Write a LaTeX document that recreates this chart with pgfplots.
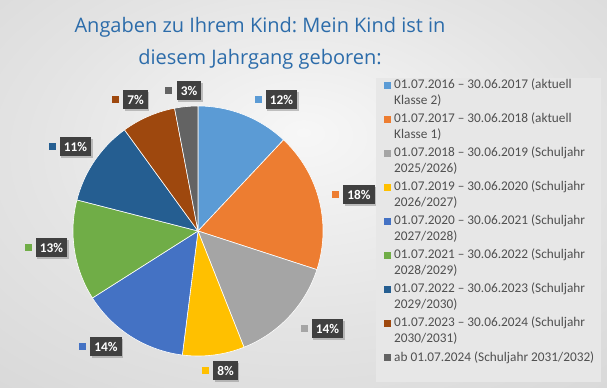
\documentclass[border=0pt]{standalone}
\usepackage{pgfplots}
\pgfplotsset{compat=1.18}
\usepackage{fontspec}
\setmainfont{Carlito}
\newfontfamily\titlefont{Open Sans}
\usetikzlibrary{shadows}
\frenchspacing
\definecolor{c1}{HTML}{5B9BD5}
\definecolor{c2}{HTML}{ED7D31}
\definecolor{c3}{HTML}{A5A5A5}
\definecolor{c4}{HTML}{FFC000}
\definecolor{c5}{HTML}{4472C4}
\definecolor{c6}{HTML}{70AD47}
\definecolor{c7}{HTML}{255E91}
\definecolor{c8}{HTML}{9E480E}
\definecolor{c9}{HTML}{636363}
\definecolor{lblbg}{HTML}{404040}
\definecolor{legtext}{HTML}{505050}
\definecolor{legbg}{HTML}{E7E7E7}
\definecolor{titleblue}{RGB}{44,108,170}
\definecolor{bgin}{HTML}{F7F7F7}
\definecolor{bgmid}{HTML}{E4E4E4}
\definecolor{bgout}{HTML}{C2C2C2}
\pgfdeclareradialshading{bgshade}{\pgfpoint{0bp}{8bp}}{color(0bp)=(bgin); color(22bp)=(bgmid); color(72bp)=(bgout)}
\newcommand\lbl[4]{%
  \node[fill=lblbg, text=white, font=\fontsize{13.3bp}{16bp}\selectfont\bfseries,
        inner xsep=4bp, inner ysep=0bp, minimum height=19bp,
        drop shadow={shadow xshift=1.5bp, shadow yshift=-1.5bp, opacity=0.45}] (L) at (axis cs:#1,#2) {#4};
  \node[fill=#3, minimum size=7bp, inner sep=0pt, anchor=east] at ([xshift=-4bp]L.west) {};
}
\newcommand\legline[3]{% y index, line1, line2
  \node[anchor=base west, text=legtext, font=\fontsize{13.3bp}{16bp}\selectfont, inner sep=0pt] at (axis cs:394,{299-34*#1}) {#2};
  \node[anchor=base west, text=legtext, font=\fontsize{13.3bp}{16bp}\selectfont, inner sep=0pt] at (axis cs:394,{283-34*#1}) {#3};
}
\newcommand\legkey[2]{%
  \node[fill=#2, minimum size=7bp, inner sep=0pt] at (axis cs:387.5,{302.5-34*#1}) {};
}
\begin{document}
\begin{tikzpicture}
\begin{axis}[hide axis, scale only axis, width=607bp, height=388bp,
  xmin=0, xmax=607, ymin=0, ymax=388, clip=false, samples=90]
\shade[shading=bgshade] (axis cs:0,0) rectangle (axis cs:607,388);
% legend background
\fill[legbg] (axis cs:376,6) rectangle (axis cs:601,310);
% title
\node[anchor=base, text=titleblue, font=\titlefont\fontsize{20bp}{24bp}\selectfont] at (axis cs:260,355) {Angaben zu Ihrem Kind: Mein Kind ist in};
\node[anchor=base, text=titleblue, font=\titlefont\fontsize{20bp}{24bp}\selectfont] at (axis cs:260,323) {diesem Jahrgang geboren:};
% pie slices: 12, 18, 14, 8, 14, 13, 11, 7, 3 (%), clockwise from top
\addplot[draw=white, line width=0.6bp, fill=c1, domain=46.8:90] ({198+125*cos(x)},{157+125*sin(x)}) -- (axis cs:198,157) -- cycle;
\addplot[draw=white, line width=0.6bp, fill=c2, domain=-18:46.8] ({198+125*cos(x)},{157+125*sin(x)}) -- (axis cs:198,157) -- cycle;
\addplot[draw=white, line width=0.6bp, fill=c3, domain=-68.4:-18] ({198+125*cos(x)},{157+125*sin(x)}) -- (axis cs:198,157) -- cycle;
\addplot[draw=white, line width=0.6bp, fill=c4, domain=-97.2:-68.4] ({198+125*cos(x)},{157+125*sin(x)}) -- (axis cs:198,157) -- cycle;
\addplot[draw=white, line width=0.6bp, fill=c5, domain=-147.6:-97.2] ({198+125*cos(x)},{157+125*sin(x)}) -- (axis cs:198,157) -- cycle;
\addplot[draw=white, line width=0.6bp, fill=c6, domain=-194.4:-147.6] ({198+125*cos(x)},{157+125*sin(x)}) -- (axis cs:198,157) -- cycle;
\addplot[draw=white, line width=0.6bp, fill=c7, domain=-234:-194.4] ({198+125*cos(x)},{157+125*sin(x)}) -- (axis cs:198,157) -- cycle;
\addplot[draw=white, line width=0.6bp, fill=c8, domain=-259.2:-234] ({198+125*cos(x)},{157+125*sin(x)}) -- (axis cs:198,157) -- cycle;
\addplot[draw=white, line width=0.6bp, fill=c9, domain=-270:-259.2] ({198+125*cos(x)},{157+125*sin(x)}) -- (axis cs:198,157) -- cycle;
% data labels
\lbl{281.5}{288}{c1}{12\%}
\lbl{359}{193}{c2}{18\%}
\lbl{327.5}{59}{c3}{14\%}
\lbl{225.5}{17}{c4}{8\%}
\lbl{106}{41}{c5}{14\%}
\lbl{51.5}{140}{c6}{13\%}
\lbl{75.5}{241}{c7}{11\%}
\lbl{135.5}{288}{c8}{7\%}
\lbl{189}{297}{c9}{3\%}
% legend
\legkey{0}{c1}\legline{0}{01.07.2016 – 30.06.2017 (aktuell}{Klasse 2)}
\legkey{1}{c2}\legline{1}{01.07.2017 – 30.06.2018 (aktuell}{Klasse 1)}
\legkey{2}{c3}\legline{2}{01.07.2018 – 30.06.2019 (Schuljahr}{2025/2026)}
\legkey{3}{c4}\legline{3}{01.07.2019 – 30.06.2020 (Schuljahr}{2026/2027)}
\legkey{4}{c5}\legline{4}{01.07.2020 – 30.06.2021 (Schuljahr}{2027/2028)}
\legkey{5}{c6}\legline{5}{01.07.2021 – 30.06.2022 (Schuljahr}{2028/2029)}
\legkey{6}{c7}\legline{6}{01.07.2022 – 30.06.2023 (Schuljahr}{2029/2030)}
\legkey{7}{c8}\legline{7}{01.07.2023 – 30.06.2024 (Schuljahr}{2030/2031)}
\legkey{8}{c9}
\node[anchor=base west, text=legtext, font=\fontsize{13.3bp}{16bp}\selectfont, inner sep=0pt] at (axis cs:394,27) {ab 01.07.2024 (Schuljahr 2031/2032)};
\end{axis}
\end{tikzpicture}
\end{document}
